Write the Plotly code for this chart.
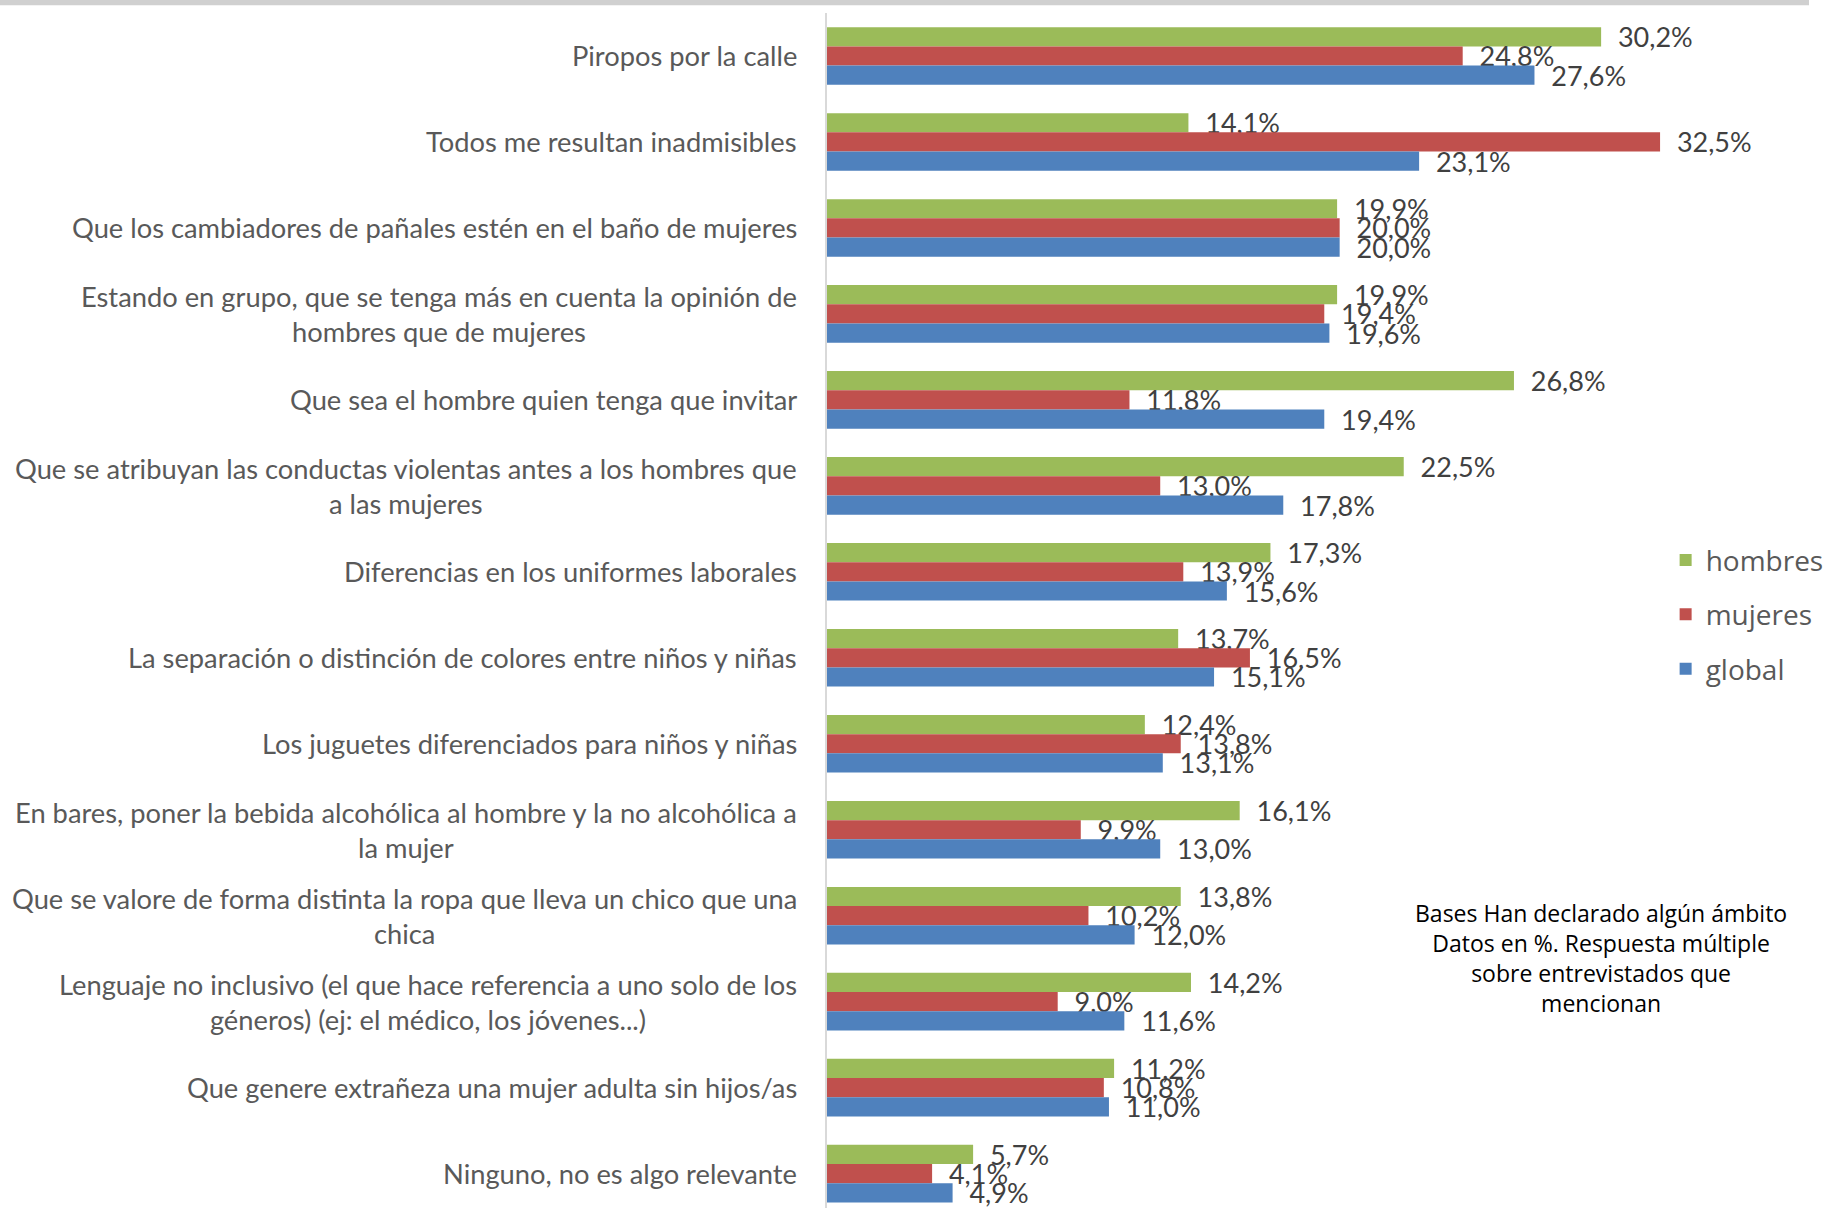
import plotly.graph_objects as go

categories = [
    "Piropos por la calle",
    "Todos me resultan inadmisibles",
    "Que los cambiadores de pañales estén en el baño de mujeres",
    "Estando en grupo, que se tenga más en cuenta la opinión de<br>hombres que de mujeres",
    "Que sea el hombre quien tenga que invitar",
    "Que se atribuyan las conductas violentas antes a los hombres que<br>a las mujeres",
    "Diferencias en los uniformes laborales",
    "La separación o distinción de colores entre niños y niñas",
    "Los juguetes diferenciados para niños y niñas",
    "En bares, poner la bebida alcohólica al hombre y la no alcohólica a<br>la mujer",
    "Que se valore de forma distinta la ropa que lleva un chico que una<br>chica",
    "Lenguaje no inclusivo (el que hace referencia a uno solo de los<br>géneros) (ej: el médico, los jóvenes...)",
    "Que genere extrañeza una mujer adulta sin hijos/as",
    "Ninguno, no es algo relevante",
]
hombres = [30.2, 14.1, 19.9, 19.9, 26.8, 22.5, 17.3, 13.7, 12.4, 16.1, 13.8, 14.2, 11.2, 5.7]
mujeres = [24.8, 32.5, 20.0, 19.4, 11.8, 13.0, 13.9, 16.5, 13.8, 9.9, 10.2, 9.0, 10.8, 4.1]
global_ = [27.6, 23.1, 20.0, 19.6, 19.4, 17.8, 15.6, 15.1, 13.1, 13.0, 12.0, 11.6, 11.0, 4.9]

series_names = ["hombres", "mujeres", "global"]
series_values = [hombres, mujeres, global_]
colors = ["#9BBB59", "#C0504D", "#4F81BD"]

note_text = ("Bases Han declarado algún ámbito<br>Datos en %. Respuesta múltiple<br>"
             "sobre entrevistados que<br>mencionan")

cat_ids = list(range(len(categories)))

LABEL_FONT = "Lato, sans-serif"

fig = go.Figure()
for name, vals, col in zip(series_names, series_values, colors):
    fig.add_trace(go.Bar(
        name=name,
        y=cat_ids,
        x=vals,
        orientation="h",
        marker=dict(color=col, line=dict(width=0)),
        text=[f"\u00a0\u00a0{v:.1f}%".replace(".", ",") for v in vals],
        textposition="outside",
        constraintext="none",
        cliponaxis=False,
        textfont=dict(family=LABEL_FONT, size=27, color="#404040"),
        legendgroup=name,
        hoverinfo="x+y",
    ))

for cid, cat in zip(cat_ids, categories):
    fig.add_annotation(
        x=0, xref="paper", y=cid, yref="y",
        text=cat, showarrow=False, xanchor="right", yanchor="middle",
        align="center", xshift=-28,
        font=dict(family=LABEL_FONT, size=27.3, color="#595959"),
    )

fig.add_annotation(
    x=0.788, xref="paper", y=0.209, yref="paper",
    text=note_text, showarrow=False, xanchor="center", yanchor="middle",
    align="center",
    font=dict(family="Open Sans, sans-serif", size=23, color="#000000"),
)

fig.add_shape(type="rect", xref="paper", yref="paper",
              x0=-1, x1=1.0, y0=1.0065, y1=1.02,
              fillcolor="#d0d0d0", line=dict(width=0), layer="above")

fig.update_layout(
    width=1829, height=1208,
    margin=dict(l=827, r=0, t=13, b=0),
    barmode="group",
    bargap=0.33,
    bargroupgap=0,
    plot_bgcolor="white",
    paper_bgcolor="white",
    separators=",.",
    showlegend=True,
    legend=dict(
        x=0.854, y=0.563, xanchor="left", yanchor="top",
        traceorder="grouped", tracegroupgap=15,
        font=dict(family="Open Sans, sans-serif", size=28, color="#595959"),
        bgcolor="rgba(0,0,0,0)",
    ),
    xaxis=dict(range=[0, 38.31], showgrid=False, zeroline=False,
               showticklabels=False, showline=False, ticks=""),
    yaxis=dict(range=[13.4, -0.5], showgrid=False, zeroline=False,
               showticklabels=False, showline=True, linecolor="#d9d9d9",
               linewidth=2, ticks="", tickmode="array", tickvals=cat_ids),
)

fig.write_html(
    "out.html",
    config={"displayModeBar": False},
    post_script="document.body.style.margin='0px';document.body.style.overflow='hidden';",
)
